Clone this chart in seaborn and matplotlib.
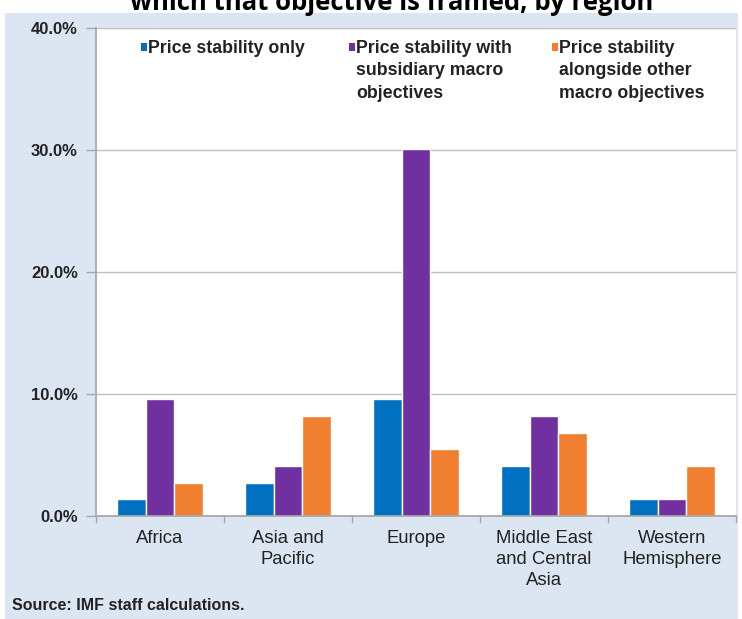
import matplotlib
matplotlib.use("Agg")
import matplotlib.pyplot as plt
import matplotlib.patches as mpatches
import seaborn as sns
import pandas as pd
import numpy as np

regions = ["Africa", "Asia and\nPacific", "Europe", "Middle East\nand Central\nAsia", "Western\nHemisphere"]
series = ["Price stability only",
          "Price stability with\nsubsidiary macro\nobjectives",
          "Price stability\nalongside other\nmacro objectives"]
price_only = [1.4, 2.7, 9.6, 4.1, 1.4]
subsidiary = [9.6, 4.1, 30.1, 8.2, 1.4]
alongside = [2.7, 8.2, 5.5, 6.8, 4.1]
colors = ["#0070C0", "#7030A0", "#F07F2F"]
yticks = [0, 10, 20, 30, 40]

sns.set_theme(style="white")
plt.rcParams["font.family"] = ["Liberation Sans", "DejaVu Sans"]

df = pd.DataFrame({
    "region": regions * 3,
    "series": [series[0]] * 5 + [series[1]] * 5 + [series[2]] * 5,
    "value": price_only + subsidiary + alongside,
})

W, H = 742, 619
fig = plt.figure(figsize=(W / 100, H / 100), dpi=100)
fig.patch.set_facecolor("white")
panel = mpatches.Rectangle((5 / W, 0), 733 / W, 1 - 13 / H, transform=fig.transFigure,
                           facecolor="#DCE6F2", edgecolor="none", zorder=-10)
fig.add_artist(panel)

ax = fig.add_axes([96 / W, (H - 516) / H, 640 / W, 488 / H])
ax.set_zorder(1)
ax.set_facecolor("white")
sns.barplot(data=df, x="region", y="value", hue="series", palette=colors,
            width=0.67, gap=0, saturation=1, ax=ax, legend=False)

ax.set_ylim(0, 40)
ax.set_xlim(-0.5, 4.5)
ax.set_yticks(yticks)
ax.set_yticklabels([f"{v:.1f}%" for v in yticks], fontsize=12, fontweight="bold", color="#222222")
ax.yaxis.grid(True, color="#BFBFBF", linewidth=1)
ax.set_axisbelow(True)
ax.set_xlabel("")
ax.set_ylabel("")
for s in ["top", "right"]:
    ax.spines[s].set_visible(False)
ax.spines["left"].set_color("#A6A6A6")
ax.spines["bottom"].set_color("#A6A6A6")
ax.tick_params(axis="y", length=7, width=1, color="#A6A6A6", direction="out", pad=6, left=True)
ax.set_xticks(range(5))
ax.set_xticklabels(regions, fontsize=13.3, color="#222222", linespacing=1.3)
ax.tick_params(axis="x", length=0, pad=10)
for b in np.arange(-0.5, 5.0, 1.0):
    ax.plot([b, b], [0, -0.012], transform=ax.get_xaxis_transform(), color="#A6A6A6",
            linewidth=1, clip_on=False)

# legend (squares aligned with first text line, as in the reference)
sq_x = [141, 349, 552]
for x0, lab, col in zip(sq_x, series, colors):
    fig.add_artist(mpatches.Rectangle((x0 / W, 1 - 51 / H), 6 / W, 8 / H,
                                      transform=fig.transFigure, facecolor=col,
                                      edgecolor="none", zorder=5))
    fig.text((x0 + 7) / W, 1 - 40 / H, lab, ha="left", va="top", fontsize=12.8,
             fontweight="bold", color="#222222", linespacing=1.42, zorder=5)

fig.text(392 / W, 1 - 10 / H, "which that objective is framed, by region",
         ha="center", va="baseline", fontsize=18.5, fontweight="bold",
         family=["Open Sans", "DejaVu Sans"], color="black")
fig.text(12 / W, 1 - 605 / H, "Source: IMF staff calculations.", ha="left", va="center",
         fontsize=11.5, fontweight="bold", color="#222222")

fig.savefig("out.png", dpi=100, facecolor=fig.get_facecolor())
